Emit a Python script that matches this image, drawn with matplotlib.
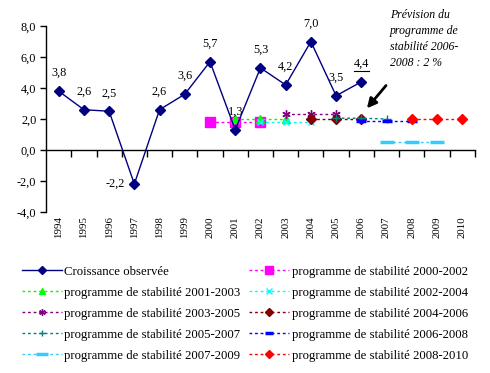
import numpy as np
import matplotlib
matplotlib.use("Agg")
import matplotlib.pyplot as plt
from matplotlib.lines import Line2D

plt.rcParams['font.family'] = ['Liberation Serif', 'DejaVu Serif']
plt.rcParams['font.size'] = 8

# ================== données ==================
years = [str(y) for y in range(1994, 2011)]

croissance_years = list(range(1994, 2007))
croissance = [3.8, 2.6, 2.5, -2.2, 2.6, 3.6, 5.7, 1.3, 5.3, 4.2, 7.0, 3.5, 4.4]

prog_labels = ['programme de stabilité 2000-2002', 'programme de stabilité 2001-2003',
               'programme de stabilité 2002-2004', 'programme de stabilité 2003-2005',
               'programme de stabilité 2004-2006', 'programme de stabilité 2005-2007',
               'programme de stabilité 2006-2008', 'programme de stabilité 2007-2009',
               'programme de stabilité 2008-2010']
prog_start = [2000, 2001, 2002, 2003, 2004, 2005, 2006, 2007, 2008]
prog_values = [
    [1.8, 1.8, 1.8],
    [2.0, 2.0, 2.0],
    [1.8, 1.8, 1.8],
    [2.3, 2.3, 2.3],
    [2.0, 2.0, 2.0],
    [2.05, 2.05, 2.0],
    [1.9, 1.9, 1.9],
    [0.5, 0.5, 0.5],
    [2.0, 2.0, 2.0],
]

# styles
prog_colors = ['#FF00FF', '#00FF00', '#00FFFF', '#800080', '#800000',
               '#008080', '#0000FF', '#33CCFF', '#FF0000']
prog_markers = ['s', '^', 'x', (6, 2, 0), 'D', '+', '_', '_', 'D']
prog_msize = [7, 6, 5, 6, 5, 6, 7, 10, 5]

fig = plt.figure(figsize=(4.90, 3.73), dpi=100)
ax = fig.add_axes([0.094, 0.432, 0.875, 0.498])

# ================== courbes ==================
x_obs = [y - 1994 for y in croissance_years]
h_obs, = ax.plot(x_obs, croissance, color='#000080', lw=1.0, marker='D', ms=5,
                 label='Croissance observée', zorder=5)

handles = {}
for lab, start, vals, col, mk, ms in zip(prog_labels, prog_start, prog_values,
                                          prog_colors, prog_markers, prog_msize):
    xs = [start - 1994 + i for i in range(len(vals))]
    mew = 2.5 if mk == '_' else 1.0
    h, = ax.plot(xs, vals, color=col, lw=1.0, ls=(0, (2, 2)), marker=mk, ms=ms,
                 mew=mew, label=lab, zorder=3)
    handles[lab] = h

# étiquettes de données
for xi, v in zip(x_obs, croissance):
    txt = f"{v:.1f}".replace('.', ',')
    if v < 0:
        ax.annotate(txt, (xi, v), xytext=(-19, 0), textcoords='offset pixels',
                    ha='center', va='center', fontsize=8.8)
    else:
        t = ax.annotate(txt, (xi, v), xytext=(0, 18), textcoords='offset pixels',
                        ha='center', va='center', fontsize=8.8)
        if xi == x_obs[-1]:
            underline_txt = t

# ================== axes ==================
ax.set_xlim(-0.5, 16.5)
ax.set_ylim(-4, 8)
ax.set_yticks(np.arange(-4, 9, 2))
ax.set_yticklabels([f"{v:.1f}".replace('.', ',') for v in np.arange(-4, 9, 2)], fontsize=8.8)
ax.tick_params(axis='y', direction='out', length=4, width=1, pad=3)
ax.set_xticks(range(len(years)))
ax.set_xticklabels(years, rotation=90, fontsize=7.8)
ax.tick_params(axis='x', length=0, pad=3)
for s in ['top', 'right', 'bottom']:
    ax.spines[s].set_visible(False)
ax.spines['left'].set_linewidth(1)

sec = ax.secondary_xaxis(1 / 3)
sec.set_xticks(np.arange(0.5, 16.6, 1.0))
sec.set_xticklabels([])
sec.tick_params(direction='out', length=5, width=1)
sec.spines['bottom'].set_linewidth(1)

# annotation
fig.text(0.796, 0.975, "Prévision du\nprogramme de\nstabilité 2006-\n2008 : 2 %",
         style='italic', fontsize=8.5, ha='left', va='top', linespacing=1.45)
ax.annotate('', xy=(12.15, 2.55), xytext=(13.05, 4.3),
            arrowprops=dict(arrowstyle='-|>', color='black', lw=2, mutation_scale=14))

# légende
order = [h_obs] + [handles[l] for l in prog_labels]
col1 = [order[0], order[2], order[4], order[6], order[8]]
col2 = [order[1], order[3], order[5], order[7], order[9]]
leg_handles = col1 + col2
fig.legend(handles=leg_handles, labels=[h.get_label() for h in leg_handles],
           loc='upper left', bbox_to_anchor=(0.045, 0.287), ncol=2, frameon=False,
           fontsize=9.2, handlelength=3.1, labelspacing=0.7, columnspacing=0.7,
           handletextpad=0.2, borderpad=0, borderaxespad=0, markerscale=0.8)

# soulignement du dernier point
fig.canvas.draw()
bb = underline_txt.get_window_extent()
y0 = bb.y0 - 1
fig.add_artist(Line2D([bb.x0 / fig.bbox.width, bb.x1 / fig.bbox.width],
                      [y0 / fig.bbox.height, y0 / fig.bbox.height],
                      color='black', lw=0.8, transform=fig.transFigure))

fig.savefig('out.png', dpi=100)
